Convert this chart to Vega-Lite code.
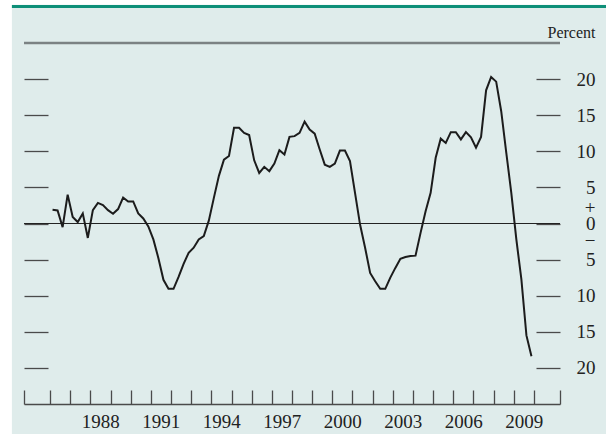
{
  "$schema": "https://vega.github.io/schema/vega-lite/v6.json",
  "width": 536,
  "height": 361,
  "autosize": {"type": "none"},
  "padding": {"left": 24, "top": 43, "right": 46, "bottom": 30},
  "background": "#dfeceb",
  "config": {
    "view": {"stroke": null},
    "axis": {"grid": false, "labelFont": "Liberation Serif", "labelColor": "#222222", "labelFontSize": 19}
  },
  "data": {
    "values": [
      {"year": 1986.125, "value": 1.9}, {"year": 1986.375, "value": 1.8}, {"year": 1986.625, "value": -0.5}, {"year": 1986.875, "value": 4.0},
      {"year": 1987.125, "value": 0.9}, {"year": 1987.375, "value": 0.2}, {"year": 1987.625, "value": 1.4}, {"year": 1987.875, "value": -2.0},
      {"year": 1988.125, "value": 1.85}, {"year": 1988.375, "value": 2.85}, {"year": 1988.625, "value": 2.55}, {"year": 1988.875, "value": 1.85},
      {"year": 1989.125, "value": 1.35}, {"year": 1989.375, "value": 2.0}, {"year": 1989.625, "value": 3.6}, {"year": 1989.875, "value": 3.05},
      {"year": 1990.125, "value": 3.05}, {"year": 1990.375, "value": 1.4}, {"year": 1990.625, "value": 0.7}, {"year": 1990.875, "value": -0.4},
      {"year": 1991.125, "value": -2.2}, {"year": 1991.375, "value": -4.8}, {"year": 1991.625, "value": -7.8}, {"year": 1991.875, "value": -9.05},
      {"year": 1992.125, "value": -9.05}, {"year": 1992.375, "value": -7.4}, {"year": 1992.625, "value": -5.6}, {"year": 1992.875, "value": -4.05},
      {"year": 1993.125, "value": -3.35}, {"year": 1993.375, "value": -2.2}, {"year": 1993.625, "value": -1.75}, {"year": 1993.875, "value": 0.4},
      {"year": 1994.125, "value": 3.55}, {"year": 1994.375, "value": 6.6}, {"year": 1994.625, "value": 8.85}, {"year": 1994.875, "value": 9.35},
      {"year": 1995.125, "value": 13.25}, {"year": 1995.375, "value": 13.25}, {"year": 1995.625, "value": 12.55}, {"year": 1995.875, "value": 12.25},
      {"year": 1996.125, "value": 8.75}, {"year": 1996.375, "value": 7.0}, {"year": 1996.625, "value": 7.85}, {"year": 1996.875, "value": 7.25},
      {"year": 1997.125, "value": 8.3}, {"year": 1997.375, "value": 10.15}, {"year": 1997.625, "value": 9.55}, {"year": 1997.875, "value": 12.0},
      {"year": 1998.125, "value": 12.1}, {"year": 1998.375, "value": 12.55}, {"year": 1998.625, "value": 14.1}, {"year": 1998.875, "value": 13.0},
      {"year": 1999.125, "value": 12.45}, {"year": 1999.375, "value": 10.25}, {"year": 1999.625, "value": 8.15}, {"year": 1999.875, "value": 7.85},
      {"year": 2000.125, "value": 8.3}, {"year": 2000.375, "value": 10.1}, {"year": 2000.625, "value": 10.1}, {"year": 2000.875, "value": 8.65},
      {"year": 2001.125, "value": 4.25}, {"year": 2001.375, "value": -0.15}, {"year": 2001.625, "value": -3.35}, {"year": 2001.875, "value": -6.85},
      {"year": 2002.125, "value": -8.0}, {"year": 2002.375, "value": -9.05}, {"year": 2002.625, "value": -9.05}, {"year": 2002.875, "value": -7.5},
      {"year": 2003.125, "value": -6.15}, {"year": 2003.375, "value": -4.9}, {"year": 2003.625, "value": -4.65}, {"year": 2003.875, "value": -4.5},
      {"year": 2004.125, "value": -4.45}, {"year": 2004.375, "value": -1.3}, {"year": 2004.625, "value": 1.7}, {"year": 2004.875, "value": 4.25},
      {"year": 2005.125, "value": 9.1}, {"year": 2005.375, "value": 11.75}, {"year": 2005.625, "value": 11.15}, {"year": 2005.875, "value": 12.65},
      {"year": 2006.125, "value": 12.65}, {"year": 2006.375, "value": 11.65}, {"year": 2006.625, "value": 12.65}, {"year": 2006.875, "value": 11.95},
      {"year": 2007.125, "value": 10.5}, {"year": 2007.375, "value": 12.0}, {"year": 2007.625, "value": 18.45}, {"year": 2007.875, "value": 20.3},
      {"year": 2008.125, "value": 19.65}, {"year": 2008.375, "value": 15.55}, {"year": 2008.625, "value": 9.8}, {"year": 2008.875, "value": 4.25},
      {"year": 2009.125, "value": -2.2}, {"year": 2009.375, "value": -7.75}, {"year": 2009.625, "value": -15.5}, {"year": 2009.875, "value": -18.4}
    ]
  },
  "resolve": {"scale": {"y": "shared", "x": "shared"}, "axis": {"y": "independent", "x": "independent"}},
  "layer": [
    {
      "data": {"values": [{}]},
      "mark": {"type": "rect", "color": "#ffffff", "clip": false},
      "encoding": {
        "x": {"datum": 1983.0, "type": "quantitative", "scale": {"domain": [1984.71, 2011.29], "nice": false, "zero": false}, "axis": null},
        "x2": {"datum": 1984.11},
        "y": {"datum": -40, "type": "quantitative", "scale": {"domain": [-25, 25], "nice": false, "zero": false}, "axis": null},
        "y2": {"datum": 40}
      }
    },
    {
      "data": {"values": [{}]},
      "mark": {"type": "rect", "color": "#ffffff", "clip": false},
      "encoding": {
        "x": {"datum": 1983.0, "type": "quantitative", "axis": null},
        "x2": {"datum": 2015.0},
        "y": {"datum": 30.3, "type": "quantitative", "axis": null},
        "y2": {"datum": 40}
      }
    },
    {
      "data": {"values": [{}]},
      "mark": {"type": "rule", "color": "#0e8f78", "strokeWidth": 3, "clip": false},
      "encoding": {
        "x": {"datum": 1984.11, "type": "quantitative", "axis": null},
        "x2": {"datum": 2015.0},
        "y": {"datum": 30.07, "type": "quantitative", "axis": null}
      }
    },
    {
      "data": {"values": [{}]},
      "mark": {"type": "rule", "color": "#7b8283", "strokeWidth": 2.5},
      "encoding": {
        "y": {"datum": 25, "type": "quantitative", "axis": null}
      }
    },
    {
      "data": {"values": [{}]},
      "mark": {"type": "rule", "color": "#222222", "strokeWidth": 1.2},
      "encoding": {
        "y": {
          "datum": 0,
          "type": "quantitative",
          "axis": {
            "orient": "right",
            "values": [20, 15, 10, 5, 0, -5, -10, -15, -20],
            "domain": false,
            "tickSize": -24,
            "tickColor": "#4a4a4a",
            "tickWidth": 1.3,
            "labelPadding": 59,
            "labelAlign": "right",
            "labelBaseline": "middle",
            "labelLineHeight": 16.5,
            "labelOverlap": false,
            "labelOffset": {"condition": {"test": "datum.value == 0", "value": -16.5}, "value": 0},
            "labelExpr": "datum.value == 0 ? ['+', '0', '\u2212'] : '' + abs(datum.value)",
            "title": "Percent",
            "titleAngle": 0,
            "titleFont": "Liberation Serif",
            "titleFontSize": 16,
            "titleFontWeight": "normal",
            "titleColor": "#222222",
            "titleAlign": "right",
            "titleBaseline": "alphabetic",
            "titleX": 35,
            "titleY": -6
          }
        }
      }
    },
    {
      "mark": {"type": "line", "color": "#1c1c1c", "strokeWidth": 2},
      "encoding": {
        "x": {
          "field": "year",
          "type": "quantitative",
          "axis": {
            "orient": "bottom",
            "values": [1984.71, 1986, 1987, 1988, 1989, 1990, 1991, 1992, 1993, 1994, 1995, 1996, 1997, 1998, 1999, 2000, 2001, 2002, 2003, 2004, 2005, 2006, 2007, 2008, 2009, 2010, 2011.29],
            "domain": true,
            "domainColor": "#4a4a4a",
            "domainWidth": 1.3,
            "tickSize": -14,
            "tickColor": "#4a4a4a",
            "tickWidth": 1.3,
            "labelPadding": 22,
            "labelOffset": 10,
            "labelFlush": false,
            "labelOverlap": false,
            "labelExpr": "indexof([1988, 1991, 1994, 1997, 2000, 2003, 2006, 2009], datum.value) >= 0 ? '' + datum.value : ''",
            "title": null
          }
        },
        "y": {
          "field": "value",
          "type": "quantitative",
          "axis": {
            "orient": "left",
            "values": [20, 15, 10, 5, 0, -5, -10, -15, -20],
            "domain": false,
            "tickSize": -24,
            "tickColor": "#4a4a4a",
            "tickWidth": 1.3,
            "labels": false,
            "title": null
          }
        }
      }
    }
  ]
}
